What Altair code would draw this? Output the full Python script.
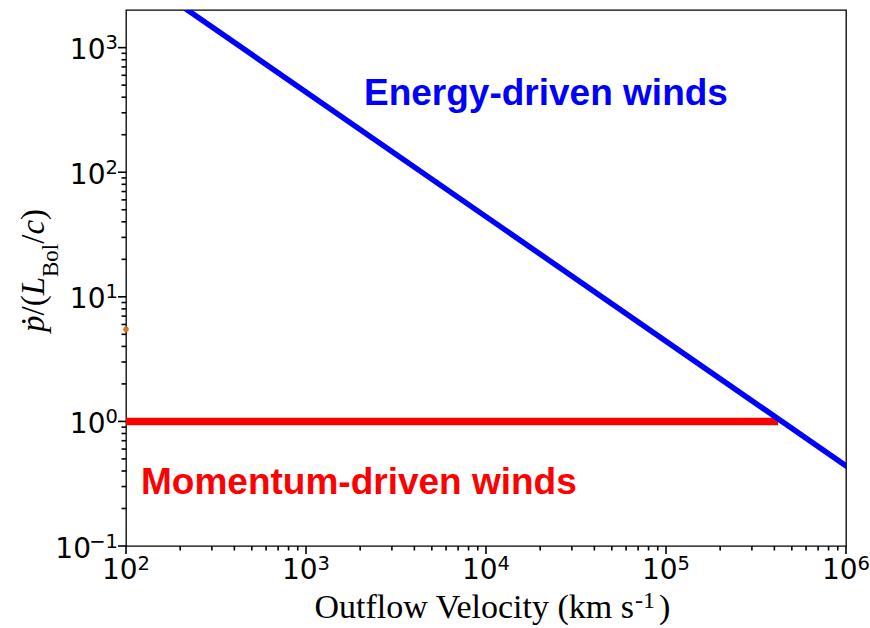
import altair as alt
import pandas as pd

# Energy-driven branch: momentum boost falls off as 1/v
energy_v = [200, 1e6]
energy_p = [2200, 0.44]

# Momentum-driven branch: boost of order unity
momentum_v = [100, 4e5]
momentum_p = [1, 1]

# single marker on the left edge
marker_v = [100]
marker_p = [5.5]

# axis ticks and their labels (base 10 with exponent)
x_major = [1e2, 1e3, 1e4, 1e5, 1e6]
x_exponents = ["2", "3", "4", "5", "6"]
y_major = [0.1, 1, 10, 100, 1000]
y_exponents = ["\u22121", "0", "1", "2", "3"]
minor_mult = [2, 3, 4, 5, 6, 7, 8, 9]

X_DOMAIN = [100, 1e6]
Y_DOMAIN = [0.1, 2005]
W, H = 720, 536
LEFT, TOP = 126, 10

x_minor = [m * d for d in x_major[:-1] for m in minor_mult]
y_minor = [m * d for d in y_major[:-1] for m in minor_mult]

x_scale = alt.Scale(type="log", domain=X_DOMAIN, nice=False)
y_scale = alt.Scale(type="log", domain=Y_DOMAIN, nice=False)


def X(field="v"):
    return alt.X(f"{field}:Q", scale=x_scale, axis=None)


def Y(field="p"):
    return alt.Y(f"{field}:Q", scale=y_scale, axis=None)


momentum = alt.Chart(pd.DataFrame({"v": momentum_v, "p": momentum_p})).mark_line(
    color="#ff0000", strokeWidth=7.5, strokeCap="square", clip=True
).encode(x=X(), y=Y())

energy = alt.Chart(pd.DataFrame({"v": energy_v, "p": energy_p})).mark_line(
    color="#0000ff", strokeWidth=5.5, strokeCap="square", clip=True
).encode(x=X(), y=Y())

marker = alt.Chart(pd.DataFrame({"v": marker_v, "p": marker_p})).mark_point(
    filled=True, color="#e0701a", size=30, opacity=1, shape="circle"
).encode(x=X(), y=Y())

# ---- ticks: majors 7 px, minors 4 px, pointing outward ----
TICK = dict(color="black", strokeWidth=1.6, clip=False)
x_major_df = pd.DataFrame({"v": x_major, "exp": x_exponents})
y_major_df = pd.DataFrame({"p": y_major, "exp": y_exponents})

ticks = [
    alt.Chart(pd.DataFrame({"v": x_major})).mark_rule(**TICK).encode(
        x=X(), y=alt.value(H), y2=alt.value(H + 8)),
    alt.Chart(pd.DataFrame({"v": x_minor})).mark_rule(**TICK).encode(
        x=X(), y=alt.value(H), y2=alt.value(H + 4.5)),
    alt.Chart(pd.DataFrame({"p": y_major})).mark_rule(**TICK).encode(
        y=Y(), x=alt.value(-8), x2=alt.value(0)),
    alt.Chart(pd.DataFrame({"p": y_minor})).mark_rule(**TICK).encode(
        y=Y(), x=alt.value(-4.5), x2=alt.value(0)),
]

# ---- tick labels: "10" plus a raised, smaller exponent ----
LF, LS = 28, 19.5
lab = dict(font="DejaVu Sans", color="black", baseline="alphabetic")
tick_labels = [
    alt.Chart(x_major_df).mark_text(text="10", fontSize=LF, align="right",
                                    dx=11.6, **lab).encode(x=X(), y=alt.value(H + 33)),
    alt.Chart(x_major_df).mark_text(fontSize=LS, align="left", dx=11.6, **lab).encode(
        x=X(), y=alt.value(H + 24), text="exp:N"),
    alt.Chart(y_major_df).transform_filter("length(datum.exp) == 1").mark_text(
        text="10", fontSize=LF, align="right", dy=11.5, **lab).encode(
        y=Y(), x=alt.value(-20.5)),
    alt.Chart(y_major_df).transform_filter("length(datum.exp) > 1").mark_text(
        text="10", fontSize=LF, align="right", dy=11.5, **lab).encode(
        y=Y(), x=alt.value(-35)),
    alt.Chart(y_major_df).mark_text(fontSize=LS, align="right", dy=1.5, **lab).encode(
        y=Y(), x=alt.value(-8), text="exp:N"),
]

one = pd.DataFrame({"k": [0]})


def label(text, px, py, size, color="black", font="Liberation Serif",
          weight="normal", style="normal", align="left", angle=0):
    return alt.Chart(one).mark_text(
        text=text, font=font, fontSize=size, fontWeight=weight, fontStyle=style,
        color=color, align=align, baseline="alphabetic", angle=angle,
    ).encode(x=alt.value(px - LEFT), y=alt.value(py - TOP))


annotations = [
    label("Energy-driven winds", 364, 105, 37, color="#0000ff",
          font="Liberation Sans", weight="bold"),
    label("Momentum-driven winds", 141, 494, 37, color="#ff0000",
          font="Liberation Sans", weight="bold"),
]

# x-axis title with raised exponent
x_title = [
    label("Outflow Velocity (km s", 634, 618, 34, align="right"),
    label("-1", 635, 608, 24),
    label(")", 659, 618, 34),
]

# y-axis title: p-dot over (L_Bol / c), read bottom to top
YB, YS = 44, 58
y_title = [
    label("ṗ", YB, 332, 33, style="italic", angle=270),
    label("/(", YB, 315.5, 33, angle=270),
    label("L", YB, 295.3, 33, style="italic", angle=270),
    label("Bol", YS, 277.0, 23, angle=270),
    label("/", YB, 243.8, 33, angle=270),
    label("c", YB, 234.6, 33, style="italic", angle=270),
    label(")", YB, 219.9, 33, angle=270),
]

chart = alt.layer(
    momentum, energy, *ticks, *tick_labels, *annotations, *x_title, *y_title, marker
).properties(
    width=W, height=H,
    autosize=alt.AutoSizeParams(type="none"),
    padding={"left": LEFT, "top": TOP, "right": 870 - LEFT - W, "bottom": 628 - TOP - H},
).configure(
    background="white"
).configure_view(
    stroke="black", strokeWidth=1.3
)

chart.save("out.html", embed_options={"renderer": "svg", "actions": False})
